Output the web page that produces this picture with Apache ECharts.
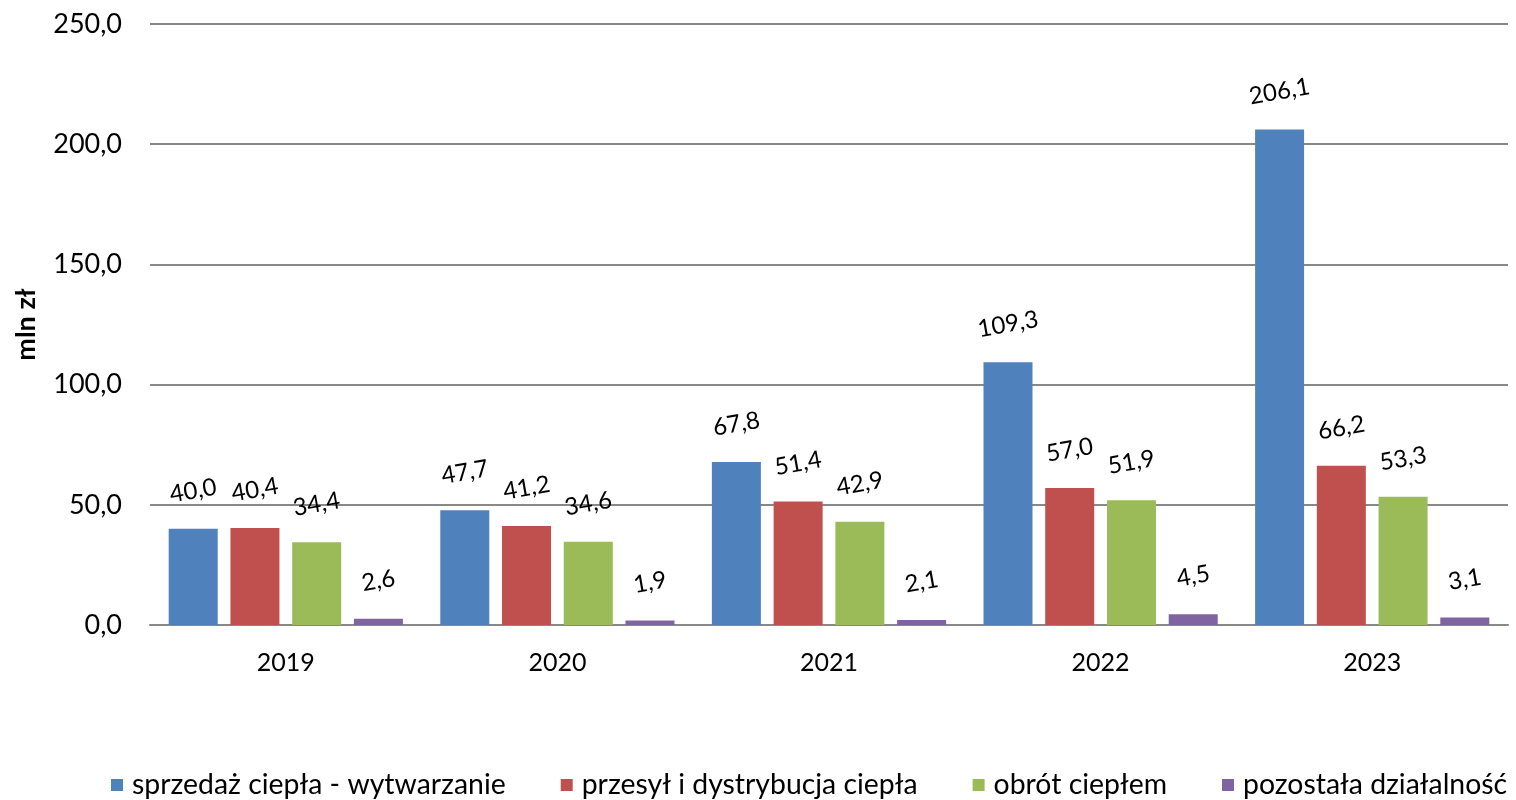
<!DOCTYPE html>
<html><head><meta charset="utf-8">
<script src="https://cdn.jsdelivr.net/npm/echarts@6/dist/echarts.min.js"></script>
<style>html,body{margin:0;padding:0;background:#fff}#c{width:1516px;height:800px}</style>
</head><body><div id="c"></div>
<script>
const categories = ['2019','2020','2021','2022','2023'];
const seriesNames = ['sprzedaż ciepła - wytwarzanie','przesył i dystrybucja ciepła','obrót ciepłem','pozostała działalność'];
const sprzedaz = [40.0, 47.7, 67.8, 109.3, 206.1];
const przesyl = [40.4, 41.2, 51.4, 57.0, 66.2];
const obrot = [34.4, 34.6, 42.9, 51.9, 53.3];
const pozostala = [2.6, 1.9, 2.1, 4.5, 3.1];
const colors = ['#4F81BD','#C0504D','#9BBB59','#8064A2'];
const font = 'Lato, "Open Sans", sans-serif';
const fmt = v => v.toFixed(1).replace('.', ',');
const values = [sprzedaz, przesyl, obrot, pozostala];
const chart = echarts.init(document.getElementById('c'));
chart.setOption({
  animation: false,
  color: colors,
  textStyle: {fontFamily: font},
  grid: {left: 150, right: 8, top: 24, bottom: 175, containLabel: false},
  legend: {
    left: 106, top: 766, width: 1800, itemWidth: 12, itemHeight: 12, itemGap: 55,
    icon: 'rect',
    textStyle: {fontSize: 28.4, color: '#000', fontFamily: font, padding: [0,0,0,4]},
    data: seriesNames
  },
  xAxis: {
    type: 'category', data: categories,
    axisLine: {lineStyle: {color: '#888', width: 2}},
    axisTick: {show: false},
    axisLabel: {fontSize: 25, color: '#000', margin: 25, fontFamily: font}
  },
  yAxis: {
    type: 'value', min: 0, max: 250, interval: 50,
    name: 'mln zł', nameLocation: 'middle', nameGap: 110, nameRotate: 90,
    nameTextStyle: {fontSize: 27, fontWeight: 'bold', color: '#000', fontFamily: font},
    axisLine: {show: false}, axisTick: {show: false},
    axisLabel: {fontSize: 27, color: '#000', margin: 28, formatter: v => fmt(v), fontFamily: font},
    splitLine: {lineStyle: {color: '#888', width: 2}}
  },
  series: seriesNames.map((n, i) => ({
    name: n, type: 'bar', data: values[i], barWidth: 49, barGap: '26%',
    itemStyle: {color: colors[i]},
    label: {
      show: true, position: 'top', distance: 38, rotate: 10,
      align: 'center', verticalAlign: 'middle',
      fontSize: 24, color: '#000', fontFamily: font,
      formatter: p => fmt(p.value)
    }
  }))
});
</script></body></html>
